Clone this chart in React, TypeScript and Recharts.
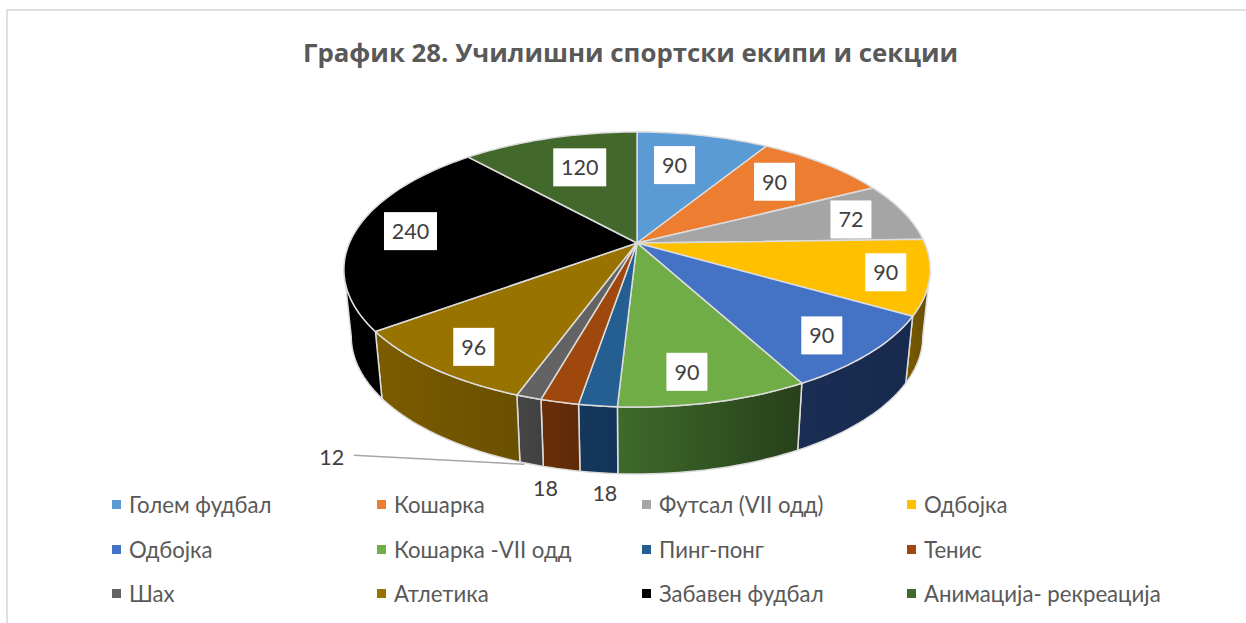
import React from 'react';
import { PieChart, Pie, Legend } from 'recharts';

const categories = ['Голем фудбал','Кошарка','Футсал (VII одд)','Одбојка','Одбојка','Кошарка -VII одд','Пинг-понг','Тенис','Шах','Атлетика','Забавен фудбал','Анимација- рекреација'];
const values = [90,90,72,90,90,90,18,18,12,96,240,120];
const topColors = ['#5b9bd5','#ed7d31','#a5a5a5','#ffc000','#4472c4','#70ad47','#255e91','#9e480e','#636363','#997300','#000000','#43682b'];
const wallLight = ['#3a6186','#8f4a1c','#636363','#7a5c00','#1a2d52','#3f6a2b','#15375a','#6a2e09','#464646','#7b5c00','#000000','#2a421b'];
const wallDark = ['#3a6186','#8f4a1c','#636363','#664d00','#172a4e','#27401a','#13345a','#602a08','#404040','#695000','#000000','#2a421b'];

const tableData = categories.map((name, i) => ({ name, value: values[i], fill: topColors[i] }));

const FONT = '"Open Sans", sans-serif';
const LEGEND_FONT = 'Lato, "Open Sans", sans-serif';
const APEX_X = 637, APEX_Y = 243;
const RX = 287.6, RY = 132.4, PERSP = 0.1927;
const WALL_H = 67, WALL_SCALE = 0.975;
const RIM = '#dcdcdc';
// Recharts angles between which the outer wall faces the viewer
const WALL_FROM = -11, WALL_TO = -169;

const project = (deg: number, f = 1) => {
  const t = ((90 - deg) * Math.PI) / 180;
  const d = 1 + PERSP * f * Math.cos(t);
  return { x: (RX * f * Math.sin(t)) / d, y: (-RY * f * Math.cos(t)) / d };
};
const arc = (a: number, b: number) => {
  const n = Math.max(2, Math.ceil(Math.abs(a - b) / 1.5));
  return Array.from({ length: n + 1 }, (_, i) => project(a + ((b - a) * i) / n));
};

const TopFace = (p: any) => {
  const pts = arc(p.startAngle, p.endAngle).map((q) => `${p.cx + q.x},${p.cy + q.y}`);
  return <path d={`M${p.cx},${p.cy}L${pts.join('L')}Z`} fill={p.fill} stroke={RIM} strokeWidth={1.5} strokeLinejoin="round" />;
};
const WallFace = (p: any) => {
  const s = Math.min(p.startAngle, WALL_FROM);
  const e = Math.max(p.endAngle, WALL_TO);
  if (s <= e) return null;
  const top = arc(s, e);
  const a = top.map((q) => `${p.cx + q.x},${p.cy + q.y}`);
  const b = top.slice().reverse().map((q) => `${p.cx + q.x * WALL_SCALE},${p.cy + q.y + WALL_H}`);
  return <path d={`M${a.join('L')}L${b.join('L')}Z`} fill={`url(#wall${p.index})`} stroke={RIM} strokeWidth={1.5} strokeLinejoin="round" />;
};

// Label placement relative to the projected slice direction: [radius fraction, dx, dy, boxed]
const placement: [number, number, number, boolean][] = [
  [0.75,-14,6,true],[0.75,-7,0,true],[0.75,12,0,true],[0.75,32,4,true],[0.75,17,13,true],[0.75,-5,16,true],
  [1,7,87,false],[1,-14,86,false],[1,-197,60,false],[0.75,-17,14,true],[0.75,-15,-2,true],[0.75,11,6,true],
];

const renderLabel = (p: any) => {
  const [f, dx, dy, boxed] = placement[p.index];
  const q = project(p.midAngle, f);
  const x = p.cx + q.x + dx, y = p.cy + q.y + dy;
  const w = String(p.value).length * 12 + 17;
  const leader = p.index === 8;
  return (
    <g>
      {leader && <path d={`M${x + 22},${y - 2}L${p.cx + q.x * WALL_SCALE - 7},${p.cy + q.y + WALL_H}`} stroke="#a6a6a6" strokeWidth={1.5} fill="none" />}
      {boxed && <rect x={x - w / 2} y={y - 19} width={w} height={38} fill="#ffffff" />}
      <text x={x} y={y} textAnchor="middle" dominantBaseline="central" fontFamily={LEGEND_FONT} fontSize={21.5} fill="#404040">{p.value}</text>
    </g>
  );
};

const renderLegend = (props: any) => (
  <div style={{ display: 'grid', gridTemplateColumns: 'repeat(4, 265px)', gridAutoRows: '44.5px', fontFamily: LEGEND_FONT, fontSize: 22.2, color: '#595959' }}>
    {props.payload.slice(0, categories.length).map((e: any, i: number) => (
      <div key={i} style={{ display: 'flex', alignItems: 'center', whiteSpace: 'nowrap' }}>
        <span style={{ width: 9, height: 9, background: e.color, marginRight: 8, display: 'inline-block' }} />
        {e.value}
      </div>
    ))}
  </div>
);

export default function App() {
  return (
    <div style={{ position: 'absolute', left: 0, top: 0, width: 1246, height: 623, background: '#fff', overflow: 'hidden' }}>
      <div style={{ position: 'absolute', left: 6, top: 9, width: 1300, height: 640, border: '2px solid #e0e0e0' }} />
      <div style={{ position: 'absolute', left: 0, top: 0 }}>
        <PieChart width={1246} height={623} margin={{ top: 0, right: 0, bottom: 0, left: 0 }}>
          <defs>
            {categories.map((_, i) => (
              <linearGradient key={i} id={`wall${i}`} x1="0" y1="0" x2="1" y2="0">
                <stop offset="0%" stopColor={wallLight[i]} />
                <stop offset="100%" stopColor={wallDark[i]} />
              </linearGradient>
            ))}
          </defs>
          <text x={630.5} y={52} textAnchor="middle" dominantBaseline="central" fontFamily={FONT} fontWeight={700} fontSize={25.8} fill="#595959">График 28. Училишни спортски екипи и секции</text>
          <Pie data={tableData} dataKey="value" nameKey="name" cx={APEX_X} cy={APEX_Y} outerRadius={RX} startAngle={90} endAngle={-270} stroke="none" isAnimationActive={false} legendType="none" shape={WallFace} />
          <Pie data={tableData} dataKey="value" nameKey="name" cx={APEX_X} cy={APEX_Y} outerRadius={RX} startAngle={90} endAngle={-270} stroke="none" isAnimationActive={false} shape={TopFace} label={renderLabel} labelLine={false} />
          <Legend content={renderLegend} itemSorter={null} wrapperStyle={{ left: 112, top: 482.5, width: 1100, bottom: 'auto' }} />
        </PieChart>
      </div>
    </div>
  );
}
